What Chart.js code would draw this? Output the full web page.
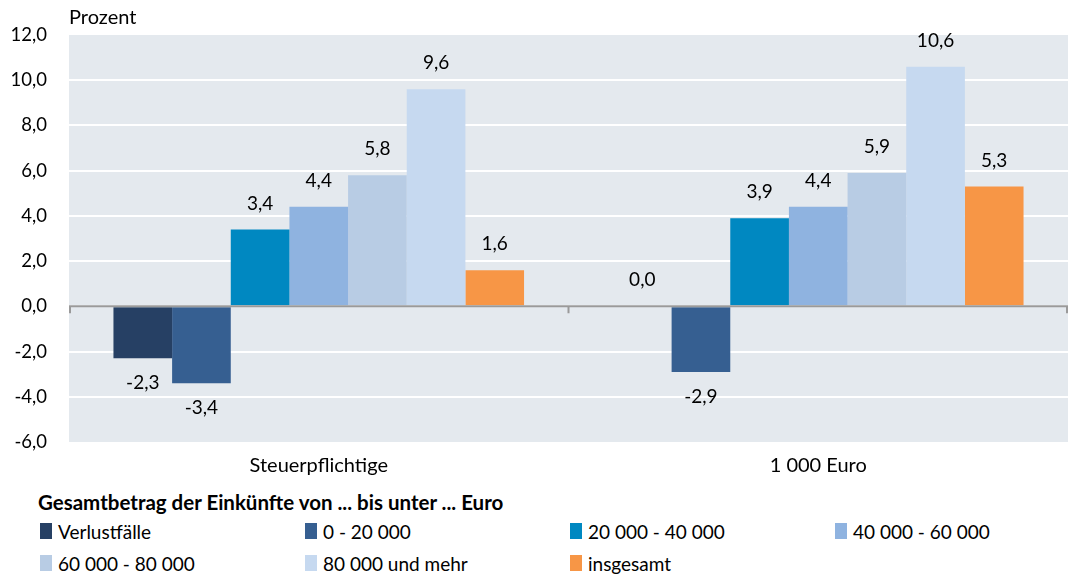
<!DOCTYPE html>
<html>
<head>
<meta charset="utf-8">
<script src="https://cdn.jsdelivr.net/npm/chart.js@4/dist/chart.umd.min.js"></script>
<style>
    body { margin: 0; background: #fff; font-family: 'Lato', sans-serif; color: #000; }
    #wrap { position: relative; width: 1073px; height: 482px; }
    #legend { position: absolute; left: 38px; top: 490px; width: 1030px; }
    #legend .title { font-weight: bold; font-size: 20.5px; height: 25px; line-height: 25px; }
    #legend .items { display: grid; grid-template-columns: 265px 265px 265px 265px; grid-auto-rows: 32px; }
    #legend .item { font-size: 19px; display: flex; align-items: center; padding-left: 2px; }
    #legend .sw { width: 12px; height: 16px; margin-right: 6px; display: inline-block; }
</style>
</head>
<body>
<div id="wrap"><canvas id="chart" width="1073" height="482"></canvas></div>
<div id="legend"></div>
<script>
// Veränderung in Prozent nach Einkunftsklassen
const categories = ['Steuerpflichtige', '1 000 Euro'];
const seriesNames = ['Verlustfälle', '0 - 20 000', '20 000 - 40 000', '40 000 - 60 000', '60 000 - 80 000', '80 000 und mehr', 'insgesamt'];
const verlust = [-2.3, 0.0];
const bis20 = [-3.4, -2.9];
const bis40 = [3.4, 3.9];
const bis60 = [4.4, 4.4];
const bis80 = [5.8, 5.9];
const ab80 = [9.6, 10.6];
const insgesamt = [1.6, 5.3];
const yTicks = [-6, -4, -2, 0, 2, 4, 6, 8, 10, 12];

const colors = ['#264064', '#365f91', '#0088c1', '#8fb3e0', '#b8cce4', '#c6d9f0', '#f79646'];
const seriesValues = [verlust, bis20, bis40, bis60, bis80, ab80, insgesamt];

const fmt = v => v.toFixed(1).replace('.', ',');
const FONT = "'Lato', sans-serif";

const plotBg = {
    id: 'plotBg',
    beforeDraw(chart) {
        const { ctx, chartArea: a } = chart;
        ctx.save();
        ctx.fillStyle = '#e4e9ee';
        ctx.fillRect(a.left, a.top, a.right - a.left, a.bottom - a.top);
        ctx.restore();
    },
    afterDatasetsDraw(chart) {
        const { ctx, chartArea: a, scales } = chart;
        const y0 = scales.y.getPixelForValue(0);
        ctx.save();
        ctx.strokeStyle = '#9a9a9a';
        ctx.lineWidth = 2;
        ctx.beginPath();
        ctx.moveTo(a.left, y0);
        ctx.lineTo(a.right, y0);
        const mid = (a.left + a.right) / 2;
        [a.left + 1, mid, a.right - 1].forEach(x => {
            ctx.moveTo(x, y0);
            ctx.lineTo(x, y0 + 7);
        });
        ctx.stroke();

        // value labels
        ctx.fillStyle = '#000';
        ctx.font = '19px ' + FONT;
        ctx.textAlign = 'center';
        ctx.textBaseline = 'middle';
        chart.data.datasets.forEach((ds, i) => {
            chart.getDatasetMeta(i).data.forEach((bar, j) => {
                const v = ds.data[j];
                const y = v < 0 ? bar.y + 25 : bar.y - 26;
                ctx.fillText(fmt(v), bar.x, y);
            });
        });

        // axis title
        ctx.font = '20px ' + FONT;
        ctx.textAlign = 'left';
        ctx.textBaseline = 'middle';
        ctx.fillText('Prozent', a.left, 18);
        ctx.restore();
    }
};

new Chart(document.getElementById('chart'), {
    type: 'bar',
    data: {
        labels: categories,
        datasets: seriesNames.map((name, i) => ({
            label: name,
            data: seriesValues[i],
            backgroundColor: colors[i],
            borderWidth: 0,
            categoryPercentage: 0.822,
            barPercentage: 1.0
        }))
    },
    options: {
        responsive: false,
        animation: false,
        layout: { padding: { top: 35, right: 5, left: 0, bottom: 0 } },
        plugins: {
            legend: { display: false },
            tooltip: { enabled: false }
        },
        scales: {
            x: {
                grid: { display: false },
                border: { display: false },
                ticks: { font: { family: FONT, size: 20 }, color: '#000', padding: 4, maxRotation: 0 }
            },
            y: {
                min: -6, max: 12,
                afterBuildTicks: axis => { axis.ticks = yTicks.map(v => ({ value: v })); },
                afterFit: axis => { axis.width = 69; },
                grid: { color: ctx => ctx.tick && (ctx.tick.value === 12 || ctx.tick.value === -6) ? 'rgba(0,0,0,0)' : '#ffffff', lineWidth: 2, drawTicks: false },
                border: { display: false },
                ticks: {
                    font: { family: FONT, size: 18.5 },
                    color: '#000',
                    padding: 22,
                    callback: v => fmt(v)
                }
            }
        }
    },
    plugins: [plotBg]
});

// HTML legend in four columns
const legend = document.getElementById('legend');
let html = '<div class="title">Gesamtbetrag der Einkünfte von ... bis unter ... Euro</div><div class="items">';
seriesNames.forEach((n, i) => {
    html += '<div class="item"><span class="sw" style="background:' + colors[i] + '"></span>' + n + '</div>';
});
html += '</div>';
legend.innerHTML = html;
</script>
</body>
</html>
